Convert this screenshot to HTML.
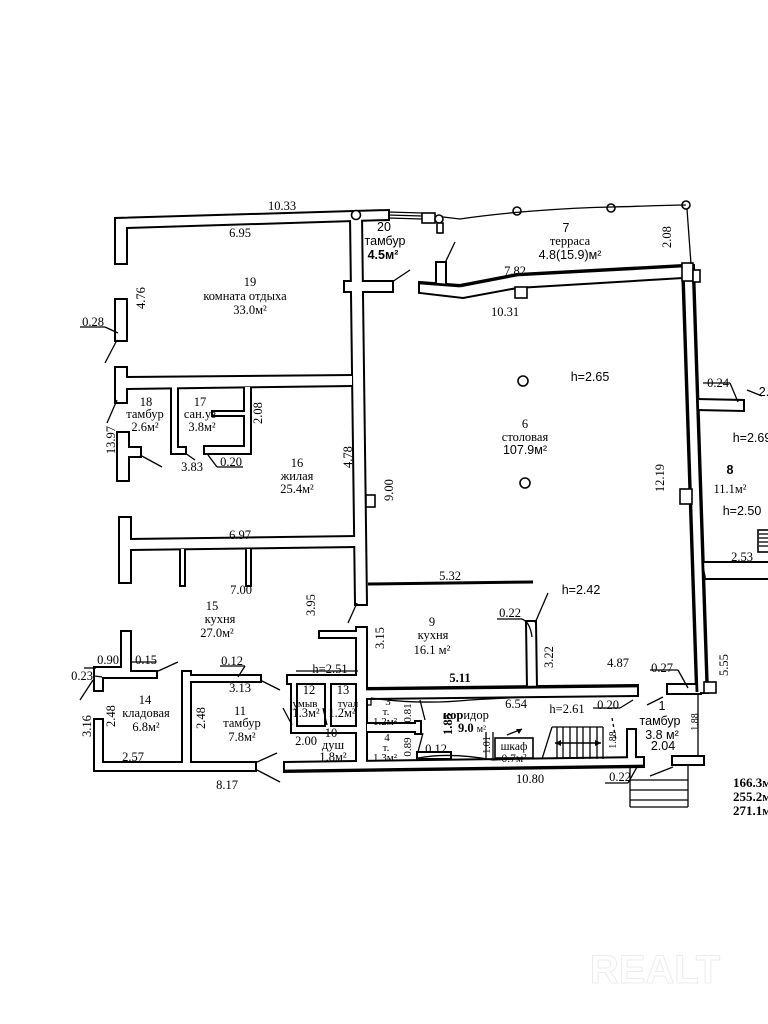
<!DOCTYPE html>
<html><head><meta charset="utf-8"><style>
html,body{margin:0;padding:0;background:#fff;}
svg{display:block;}
text{font-family:"Liberation Serif","DejaVu Serif",serif;font-size:12.5px;fill:#000;}
.s{font-family:"Liberation Sans","DejaVu Sans",sans-serif;}
.b{font-weight:bold;}
</style></head><body>
<svg width="768" height="1024" viewBox="0 0 768 1024" xmlns="http://www.w3.org/2000/svg">
<defs>
<g id="walls">
<polygon points="116,263 116,219 388,211 388,219 126,227 126,263"/>
<polygon points="351,216 361,216 366,604 356,604"/>
<polygon points="345,282 392,282 392,291 345,291"/>
<polygon points="116,368 126,368 126,378 352,376 352,385 126,388 126,402 116,402"/>
<polygon points="116,300 126,300 126,340 116,340"/>
<polygon points="118,433 128,433 128,448 140,448 140,456 128,456 128,480 118,480"/>
<polygon points="120,518 130,518 130,540 356,537 356,546 130,549 130,582 120,582"/>
<polygon points="122,632 130,632 130,672 156,672 156,677 102,677 102,690 95,690 95,668 122,668"/>
<polygon points="95,720 102,720 102,763 255,763 255,770 95,770"/>
<polygon points="183,672 190,672 190,676 260,676 260,681 190,681 190,763 183,763"/>
<polygon points="285,763 643,758 643,766 285,771"/>
<polygon points="320,632 357,632 357,628 366,628 366,765 357,765 357,637 320,637"/>
<polygon points="366,689 637,686 637,695 366,698"/>
<polygon points="683,266 693,266 707,692 697,692"/>
<polygon points="697,400 743,401 743,410 697,409"/>
<polygon points="703,563 768,563 768,578 706,578"/>
<polygon points="420,283 460,286 517,275 683,266 683,277 517,287 463,297 420,292"/>
<polygon points="437,263 445,263 445,284 437,284"/>
<polygon points="527,622 535,622 536,689 528,689"/>
<polygon points="668,685 700,685 700,693 668,693"/>
<polygon points="673,757 703,757 703,764 673,764"/>
<polygon points="628,730 635,730 635,765 628,765"/>
<polygon points="288,676 358,676 358,683 296,683 296,727 358,727 358,732 292,732 292,683 288,683"/>
<polygon points="326,683 330,683 330,727 326,727"/>
<polygon points="367,724 416,724 416,722 420,722 420,733 416,733 416,731 367,731"/>
<polygon points="172,387 177,387 177,448 185,448 185,453 172,453"/>
<polygon points="245,387 250,387 250,453 205,453 205,447 245,447"/>
<polygon points="213,412 245,412 245,415 213,415"/>
<polygon points="418,753 450,753 450,758 418,758"/>
<polygon points="181,549 184,549 184,585 181,585"/>
<polygon points="247,549 250,549 250,585 247,585"/>
</g>
</defs>
<g fill="#000" stroke="#000" stroke-width="4" stroke-linejoin="miter"><use href="#walls"/></g>
<g fill="#fff" stroke="none"><use href="#walls"/></g>

<g stroke="#000" fill="none" stroke-width="2.8">
<line x1="683" y1="266" x2="697" y2="692"/>
<line x1="693" y1="266" x2="707" y2="692"/>
<line x1="420" y1="283" x2="460" y2="286"/><line x1="460" y1="286" x2="517" y2="275"/><line x1="517" y1="275" x2="683" y2="266"/>
<line x1="366" y1="689" x2="637" y2="686"/>
<line x1="285" y1="771" x2="643" y2="766"/>
</g>

<g stroke="#000" fill="#fff" stroke-width="1.6">
<circle cx="356" cy="215" r="4.5"/>
<rect x="422" y="213" width="13" height="10"/>
<circle cx="439" cy="219" r="4"/>
<rect x="437" y="223" width="6" height="10"/>
<rect x="515" y="287" width="12" height="11"/>
<rect x="682" y="263" width="11" height="18"/>
<rect x="693" y="270" width="7" height="12"/>
<rect x="366" y="495" width="9" height="12"/>
<rect x="680" y="489" width="12" height="15"/>
<rect x="704" y="682" width="12" height="11"/>
<circle cx="517" cy="211" r="4"/>
<circle cx="611" cy="208" r="4"/>
<circle cx="686" cy="205" r="4"/>
<circle cx="523" cy="381" r="5"/>
<circle cx="525" cy="483" r="5"/>
<rect x="495" y="738" width="38" height="20"/>
<rect x="758" y="530" width="12" height="22"/>
</g>
<g stroke="#000" fill="none" stroke-width="1.3">
<line x1="388" y1="212" x2="422" y2="213"/><line x1="388" y1="215" x2="422" y2="216"/><line x1="388" y1="218" x2="422" y2="219"/>
<path d="M443,217 L460,219 C500,213 560,208 612,207 C650,206 670,205 686,205"/>
<line x1="687" y1="209" x2="691" y2="264"/>
<line x1="455" y1="242" x2="445" y2="263"/>
<line x1="392" y1="282" x2="410" y2="270"/>
<line x1="368" y1="584" x2="533" y2="582" stroke-width="3"/>
<line x1="80" y1="327" x2="105" y2="327"/><line x1="105" y1="327" x2="118" y2="333"/>
<line x1="117" y1="340" x2="105" y2="363"/>
<line x1="117" y1="400" x2="107" y2="423"/>
<line x1="140" y1="455" x2="162" y2="467"/>
<line x1="217" y1="467" x2="243" y2="467"/><line x1="217" y1="467" x2="208" y2="455"/>
<line x1="185" y1="453" x2="195" y2="460"/>
<line x1="357" y1="603" x2="348" y2="623"/>
<line x1="497" y1="619" x2="522" y2="619"/><path d="M522,619 Q530,622 532,637"/>
<line x1="548" y1="593" x2="535" y2="623"/>
<line x1="95" y1="676" x2="102" y2="677"/>
<line x1="93" y1="680" x2="80" y2="700"/>
<line x1="96" y1="668" x2="84" y2="668"/>
<line x1="130" y1="662" x2="156" y2="662"/><line x1="156" y1="672" x2="178" y2="662"/>
<line x1="220" y1="666" x2="245" y2="666"/><line x1="245" y1="666" x2="238" y2="677"/>
<line x1="260" y1="680" x2="280" y2="690"/>
<line x1="255" y1="763" x2="277" y2="753"/>
<line x1="257" y1="770" x2="280" y2="782"/>
<line x1="283" y1="708" x2="292" y2="725"/>
<line x1="323" y1="708" x2="327" y2="725"/>
<line x1="296" y1="671" x2="358" y2="671"/>
<rect x="367" y="699" width="4" height="6"/>
<line x1="420" y1="700" x2="425" y2="720"/>
<line x1="423" y1="733" x2="418" y2="752"/>
<path d="M371,698 Q420,705 470,700 Q520,697 545,697"/>
<path d="M418,758 Q450,752 493,760 Q530,758 560,758"/>
<line x1="486" y1="732" x2="486" y2="758"/><line x1="493" y1="732" x2="493" y2="758"/>
<line x1="507" y1="735" x2="522" y2="729"/>
<line x1="552" y1="727" x2="603" y2="727"/>
<line x1="552" y1="727" x2="542" y2="759"/>
<line x1="557" y1="727" x2="557" y2="759"/><line x1="563" y1="727" x2="563" y2="759"/>
<line x1="570" y1="727" x2="570" y2="759"/><line x1="577" y1="727" x2="577" y2="759"/>
<line x1="583" y1="727" x2="583" y2="759"/><line x1="590" y1="727" x2="590" y2="759"/>
<line x1="597" y1="727" x2="597" y2="759"/><line x1="603" y1="727" x2="603" y2="759"/>
<line x1="555" y1="743" x2="601" y2="743" stroke-width="1.5"/>
<line x1="593" y1="708" x2="620" y2="708"/><line x1="620" y1="708" x2="633" y2="700"/>
<line x1="612" y1="718" x2="616" y2="740" stroke-dasharray="3,3"/>
<line x1="647" y1="705" x2="663" y2="697"/>
<line x1="650" y1="776" x2="673" y2="767"/>
<line x1="605" y1="783" x2="628" y2="783"/><line x1="628" y1="783" x2="637" y2="767"/>
<line x1="698" y1="693" x2="698" y2="757"/>
<line x1="630" y1="766" x2="630" y2="807"/><line x1="688" y1="766" x2="688" y2="807"/>
<line x1="630" y1="780" x2="688" y2="780"/><line x1="630" y1="790" x2="688" y2="790"/>
<line x1="630" y1="800" x2="688" y2="800"/><line x1="630" y1="807" x2="688" y2="807"/>
<line x1="650" y1="670" x2="678" y2="670"/><line x1="678" y1="670" x2="688" y2="688"/>
<line x1="703" y1="383" x2="730" y2="383"/><line x1="730" y1="383" x2="738" y2="402"/>
<line x1="747" y1="390" x2="762" y2="396"/>
<line x1="759" y1="534" x2="768" y2="534"/><line x1="759" y1="538" x2="768" y2="538"/>
<line x1="759" y1="542" x2="768" y2="542"/><line x1="759" y1="546" x2="768" y2="546"/>
</g>
<g fill="#000">
<polygon points="555,743 561,740 561,746"/><polygon points="601,743 595,740 595,746"/>
<polygon points="522,729 516,729 519,734"/>
</g>

<g text-anchor="middle">
<text x="282" y="210">10.33</text>
<text x="240" y="237">6.95</text>
<text x="250" y="286">19</text>
<text x="245" y="300">комната отдыха</text>
<text x="250" y="314">33.0м²</text>
<text transform="translate(145,298) rotate(-90)">4.76</text>
<text x="93" y="326">0.28</text>
<text x="146" y="406">18</text>
<text x="145" y="418">тамбур</text>
<text x="145" y="431">2.6м²</text>
<text x="200" y="406">17</text>
<text x="200" y="418">сан.уз</text>
<text x="202" y="431">3.8м²</text>
<text transform="translate(262,413) rotate(-90)">2.08</text>
<text transform="translate(115,440) rotate(-90)">13.97</text>
<text x="192" y="471">3.83</text>
<text x="231" y="466">0.20</text>
<text x="297" y="467">16</text>
<text x="297" y="480">жилая</text>
<text x="297" y="493">25.4м²</text>
<text transform="translate(352,457) rotate(-90)">4.78</text>
<text transform="translate(393,490) rotate(-90)">9.00</text>
<text transform="translate(664,478) rotate(-90)">12.19</text>
<text x="240" y="539">6.97</text>
<text x="241" y="594">7.00</text>
<text x="212" y="610">15</text>
<text x="220" y="623">кухня</text>
<text x="217" y="637">27.0м²</text>
<text transform="translate(315,605) rotate(-90)">3.95</text>
<text transform="translate(384,638) rotate(-90)">3.15</text>
<text x="450" y="580">5.32</text>
<text x="590" y="381" class="s">h=2.65</text>
<text x="525" y="428">6</text>
<text x="525" y="441">столовая</text>
<text x="525" y="454" class="s">107.9м²</text>
<text x="505" y="316">10.31</text>
<text x="515" y="275">7.82</text>
<text x="566" y="232" class="s">7</text>
<text x="570" y="245">терраса</text>
<text x="570" y="259" class="s">4.8(15.9)м²</text>
<text transform="translate(671,237) rotate(-90)">2.08</text>
<text x="384" y="231" class="s">20</text>
<text x="385" y="245" class="s">тамбур</text>
<text x="383" y="259" class="s b">4.5м²</text>
<text x="718" y="387">0.24</text>
<text x="764" y="396" class="s">2.</text>
<text x="752" y="442" class="s">h=2.69</text>
<text x="730" y="474" class="s b">8</text>
<text x="730" y="493">11.1м²</text>
<text x="742" y="515" class="s">h=2.50</text>
<text x="742" y="561">2.53</text>
<text x="581" y="594" class="s">h=2.42</text>
<text x="510" y="617">0.22</text>
<text x="432" y="626">9</text>
<text x="433" y="639">кухня</text>
<text x="432" y="654">16.1 м²</text>
<text transform="translate(553,657) rotate(-90)">3.22</text>
<text x="618" y="667">4.87</text>
<text transform="translate(728,665) rotate(-90)">5.55</text>
<text x="662" y="672">0.27</text>
<text x="330" y="673">h=2.51</text>
<text x="460" y="682" class="b">5.11</text>
<text x="108" y="664">0.90</text>
<text x="146" y="664">0.15</text>
<text x="232" y="665">0.12</text>
<text x="82" y="680">0.23</text>
<text x="145" y="704">14</text>
<text x="146" y="717">кладовая</text>
<text x="146" y="731">6.8м²</text>
<text transform="translate(115,716) rotate(-90)">2.48</text>
<text transform="translate(205,718) rotate(-90)">2.48</text>
<text transform="translate(91,726) rotate(-90)">3.16</text>
<text x="240" y="692">3.13</text>
<text x="240" y="715">11</text>
<text x="242" y="727">тамбур</text>
<text x="242" y="741">7.8м²</text>
<text x="133" y="761">2.57</text>
<text x="227" y="789">8.17</text>
<text x="309" y="694">12</text>
<text x="343" y="694">13</text>
<text x="305" y="707" style="font-size:11px">умыв</text>
<text x="348" y="707" style="font-size:11px">туал</text>
<text x="306" y="717">1.3м²</text>
<text x="342" y="717">1.2м²</text>
<text x="306" y="745">2.00</text>
<text x="331" y="737">10</text>
<text x="333" y="749">душ</text>
<text x="333" y="761">1.8м²</text>
<text x="388" y="705" style="font-size:11px">3</text>
<text x="386" y="715" style="font-size:11px">т.</text>
<text x="385" y="725" style="font-size:11px">1.2м²</text>
<text transform="translate(411,713) rotate(-90)" style="font-size:11px">0.81</text>
<text x="387" y="741" style="font-size:11px">4</text>
<text x="386" y="751" style="font-size:11px">т.</text>
<text x="385" y="761" style="font-size:11px">1.3м²</text>
<text transform="translate(411,747) rotate(-90)" style="font-size:11px">0.89</text>
<text transform="translate(452,724) rotate(-90)" class="b">1.85</text>
<text x="436" y="753">0.12</text>
<text x="466" y="719"><tspan class="b">кор</tspan>идор</text>
<text x="472" y="732" class="b">9.0 <tspan style="font-weight:normal;font-size:10px">м²</tspan></text>
<text x="516" y="708">6.54</text>
<text x="567" y="713">h=2.61</text>
<text x="608" y="709">0.20</text>
<text transform="translate(490,745) rotate(-90)" style="font-size:10px">1.01</text>
<text x="514" y="750" style="font-size:11.5px">шкаф</text>
<text x="514" y="762" style="font-size:11.5px">0.7м²</text>
<text x="662" y="710" class="s">1</text>
<text x="660" y="725" class="s">тамбур</text>
<text x="662" y="739" class="s">3.8 м²</text>
<text x="663" y="750" class="s">2.04</text>
<text transform="translate(616,740) rotate(-90)" style="font-size:10px">1.88</text>
<text transform="translate(698,722) rotate(-90)" style="font-size:10px">1.88</text>
<text x="530" y="783">10.80</text>
<text x="620" y="781">0.22</text>
</g>
<text x="733" y="787" class="b" style="font-size:13px">166.3м²</text>
<text x="733" y="801" class="b" style="font-size:13px">255.2м²</text>
<text x="733" y="815" class="b" style="font-size:13px">271.1м²</text>
<text x="655" y="983" text-anchor="middle" class="s b" style="font-size:40px;fill:none;stroke:#ececec;stroke-width:1">REALT</text>
</svg>
</body></html>
